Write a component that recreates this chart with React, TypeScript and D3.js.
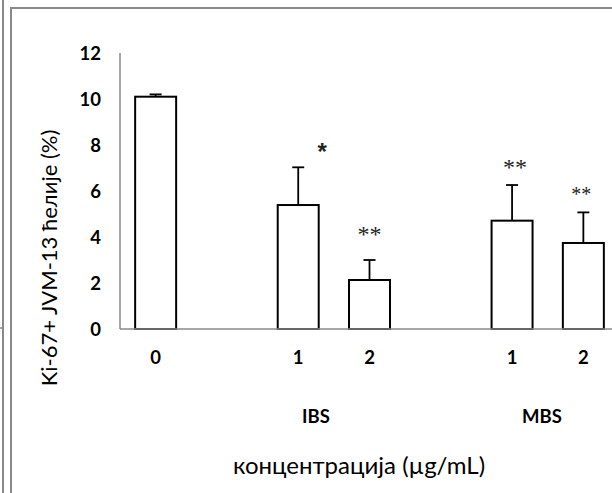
import React from "react";
import * as d3 from "d3";

const categoryKeys = ["c0", "gap1", "ibs1", "ibs2", "gap2", "mbs1", "mbs2"];
const categoryLabels = ["0", "", "1", "2", "", "1", "2"];
const values: (number | null)[] = [10.1, null, 5.39, 2.13, null, 4.71, 3.74];
const errors: (number | null)[] = [0.1, null, 1.64, 0.87, null, 1.55, 1.33];
const significance = ["", "", "*", "**", "", "**", "**"];
const groupLabels = ["IBS", "MBS"];
const yTicks = [0, 2, 4, 6, 8, 10, 12];
const yTitle = "Ki-67+ JVM-13 ћелије (%)";
const xTitle = "концентрација (µg/mL)";

// annotation layout (pixel offsets, not data)
const starDx = [0, 0, 24, 0, 0, 3, -2];
const starDy = [0, 0, -22, -33, 0, -25, -24];
const starSize = [0, 0, 24, 24, 0, 24, 20];
const groupX = [316, 542];

export default function App() {
  const W = 612;
  const H = 493;
  const y = d3.scaleLinear().domain([0, 12]).range([329, 53]);
  const x = d3
    .scaleBand<string>()
    .domain(categoryKeys)
    .range([120, 619])
    .paddingInner(0.425)
    .paddingOuter(0.2125);
  const bw = x.bandwidth();
  const axisColor = "#898989";
  const labelFont = "Lato, 'Open Sans', sans-serif";

  return (
    <svg
      width={W}
      height={H}
      style={{ position: "absolute", left: 0, top: 0, background: "#fff" }}
    >
      <rect x={0} y={0} width={W} height={H} fill="#fff" />
      {/* frame lines */}
      <line x1={3} y1={0} x2={3} y2={H} stroke={axisColor} strokeWidth={2} />
      <line x1={0} y1={328} x2={3} y2={328} stroke={axisColor} strokeWidth={1.5} />
      <line x1={11} y1={8} x2={11} y2={H} stroke={axisColor} strokeWidth={2} />
      <line x1={10} y1={8} x2={W} y2={8} stroke={axisColor} strokeWidth={2} />

      {/* y tick labels */}
      {yTicks.map((t) => (
        <text
          key={t}
          x={101}
          y={y(t)}
          dy="0.36em"
          textAnchor="end"
          fontFamily={labelFont}
          fontWeight="bold"
          fontSize={18.5}
          fill="#000"
        >
          {t}
        </text>
      ))}

      {/* bars */}
      {categoryKeys.map((k, i) => {
        const v = values[i];
        if (v == null) return null;
        const x0 = x(k)!;
        const cx = x0 + bw / 2;
        const e = errors[i] ?? 0;
        return (
          <g key={k}>
            <rect
              x={x0}
              y={y(v)}
              width={bw}
              height={y(0) - y(v)}
              fill="#fff"
              stroke="#000"
              strokeWidth={2}
            />
            <line x1={cx} y1={y(v)} x2={cx} y2={y(v + e)} stroke="#000" strokeWidth={1.8} />
            <line x1={cx - 6} y1={y(v + e)} x2={cx + 6} y2={y(v + e)} stroke="#000" strokeWidth={1.8} />
            {significance[i] && (
              <text
                x={cx + starDx[i]}
                y={y(v + e) + starDy[i]}
                dy="0.62em"
                textAnchor="middle"
                fontFamily={i === 2 ? "'Liberation Sans', sans-serif" : "'Liberation Serif', serif"}
                fontWeight={i === 2 ? "bold" : "normal"}
                fontSize={starSize[i]}
                fill="#222"
              >
                {significance[i]}
              </text>
            )}
          </g>
        );
      })}

      {/* axes */}
      <line x1={120} y1={y(12)} x2={120} y2={y(0)} stroke={axisColor} strokeWidth={1.5} />
      <line x1={120} y1={y(0)} x2={W} y2={y(0)} stroke={axisColor} strokeWidth={1.5} />

      {/* category labels */}
      {categoryKeys.map((k, i) =>
        categoryLabels[i] ? (
          <text
            key={k}
            x={x(k)! + bw / 2}
            y={357}
            dy="0.36em"
            textAnchor="middle"
            fontFamily={labelFont}
            fontWeight="bold"
            fontSize={18.5}
            fill="#000"
          >
            {categoryLabels[i]}
          </text>
        ) : null
      )}

      {/* group labels */}
      {groupLabels.map((g, i) => (
        <text
          key={g}
          x={groupX[i]}
          y={416}
          dy="0.36em"
          textAnchor="middle"
          fontFamily={labelFont}
          fontWeight="bold"
          fontSize={18.5}
          fill="#000"
        >
          {g}
        </text>
      ))}

      {/* axis titles */}
      <text
        x={359}
        y={465}
        dy="0.36em"
        textAnchor="middle"
        fontFamily={labelFont}
        fontSize={24}
        fill="#000"
      >
        {xTitle}
      </text>
      <text
        transform={`translate(49,258) rotate(-90)`}
        dy="0.36em"
        textAnchor="middle"
        fontFamily={labelFont}
        fontSize={22}
        fill="#000"
      >
        {yTitle}
      </text>
    </svg>
  );
}
